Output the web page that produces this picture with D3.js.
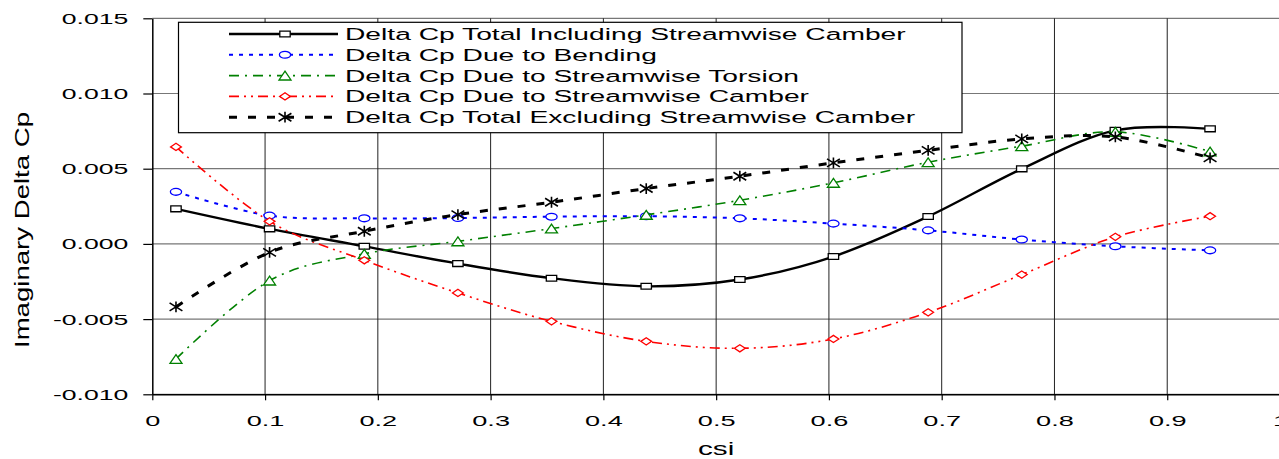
<!DOCTYPE html>
<html>
<head>
<meta charset="utf-8">
<script src="https://cdn.jsdelivr.net/npm/d3@7"></script>
<style>
  html, body { margin: 0; padding: 0; background: #fff; }
  svg { display: block; font-family: "Liberation Sans", Arial, sans-serif; }
</style>
</head>
<body>
<svg id="chart" width="1279" height="459"></svg>
<script>
// ---- data ----
const csi = [0.021, 0.104, 0.188, 0.271, 0.354, 0.438, 0.521, 0.604, 0.688, 0.771, 0.854, 0.938];
const totalIncluding = [0.00233, 0.00100, -0.00016, -0.00131, -0.00228, -0.00282, -0.00237, -0.00084, 0.00182, 0.00499, 0.00755, 0.00765];
const dueToBending   = [0.00346, 0.00188, 0.00170, 0.00172, 0.00181, 0.00184, 0.00170, 0.00135, 0.00090, 0.00029, -0.00016, -0.00043];
const dueToTorsion   = [-0.00765, -0.00244, -0.00066, 0.00017, 0.00102, 0.00193, 0.00290, 0.00406, 0.00543, 0.00650, 0.00745, 0.00614];
const dueToCamber    = [0.00645, 0.00150, -0.00109, -0.00326, -0.00515, -0.00648, -0.00694, -0.00632, -0.00455, -0.00204, 0.00047, 0.00184];
const totalExcluding = [-0.00419, -0.00056, 0.00084, 0.00195, 0.00277, 0.00368, 0.00450, 0.00539, 0.00622, 0.00698, 0.00711, 0.00572];

const seriesNames = [
  "Delta Cp Total Including Streamwise Camber",
  "Delta Cp Due to Bending",
  "Delta Cp Due to Streamwise Torsion",
  "Delta Cp Due to Streamwise Camber",
  "Delta Cp Total Excluding Streamwise Camber"
];
const xTicks = [0, 0.1, 0.2, 0.3, 0.4, 0.5, 0.6, 0.7, 0.8, 0.9, 1];
const xTickLabels = ["0", "0.1", "0.2", "0.3", "0.4", "0.5", "0.6", "0.7", "0.8", "0.9", "1"];
const yTicks = [-0.010, -0.005, 0.000, 0.005, 0.010, 0.015];
const yTickLabels = ["-0.010", "-0.005", "0.000", "0.005", "0.010", "0.015"];
const xTitle = "csi";
const yTitle = "Imaginary Delta Cp";

// ---- styles ----
const styles = [
  { color: "#000000", width: 2.4, dash: null,               marker: "square" },
  { color: "#0000ff", width: 2.0, dash: "4,6",              marker: "circle" },
  { color: "#008000", width: 1.6, dash: "10,6,2,6",         marker: "triangle" },
  { color: "#ff0000", width: 1.6, dash: "10,5,2,5,2,5",     marker: "diamond" },
  { color: "#000000", width: 3.0, dash: "8,11",             marker: "asterisk" }
];
const seriesValues = [totalIncluding, dueToBending, dueToTorsion, dueToCamber, totalExcluding];

const svg = d3.select("#chart");
const L = 152.3, R = 1280, T = 18.3, B = 394.3;
const x = d3.scaleLinear().domain([0, 1]).range([L, R]);
const y = d3.scaleLinear().domain([-0.010, 0.015]).range([B, T]);

svg.append("rect").attr("width", 1279).attr("height", 459).attr("fill", "#fff");

// gridlines
const grid = svg.append("g");
grid.selectAll("line.h").data(yTicks).join("line")
  .attr("x1", L).attr("x2", R)
  .attr("y1", d => y(d)).attr("y2", d => y(d))
  .attr("stroke", "#777").attr("stroke-width", 1.2);
grid.selectAll("line.v").data(xTicks.slice(1)).join("line")
  .attr("x1", d => x(d)).attr("x2", d => x(d))
  .attr("y1", T).attr("y2", B)
  .attr("stroke", "#222").attr("stroke-width", 1);

// axes
const yAxis = d3.axisLeft(y).tickValues(yTicks)
  .tickFormat((d, i) => yTickLabels[i]).tickSize(9).tickSizeOuter(0).tickPadding(0);
const gy = svg.append("g").attr("transform", `translate(${L},0)`).call(yAxis);
gy.select(".domain").attr("stroke", "#000").attr("stroke-width", 1.5);
gy.selectAll(".tick line").attr("stroke", "#000").attr("stroke-width", 1.2);
gy.selectAll(".tick text").attr("x", 0).attr("dy", null)
  .attr("font-size", 14).attr("fill", "#000")
  .attr("transform", "translate(-24,5) scale(1.9,1)");

const xAxis = d3.axisBottom(x).tickValues(xTicks)
  .tickFormat((d, i) => xTickLabels[i]).tickSize(6).tickSizeOuter(0).tickPadding(0);
const gx = svg.append("g").attr("transform", `translate(0,${B})`).call(xAxis);
gx.select(".domain").attr("stroke", "#000").attr("stroke-width", 1.5);
gx.selectAll(".tick line").attr("stroke", "#000").attr("stroke-width", 1.2);
gx.selectAll(".tick text").attr("y", 0).attr("dy", null)
  .attr("font-size", 15.5).attr("fill", "#000")
  .attr("transform", "translate(0,32) scale(1.75,1)");

// axis titles
svg.append("text").text(xTitle)
  .attr("text-anchor", "middle").attr("font-size", 18)
  .attr("transform", `translate(${x(0.5)},455) scale(1.65,1)`);
svg.append("text").text(yTitle)
  .attr("text-anchor", "middle").attr("font-size", 15)
  .attr("transform", "translate(28.5,230) rotate(-90) scale(1.84,1.35)");

// marker shapes
const markerPath = {
  square:   "M-5.2,-2.9H5.2V2.9H-5.2Z",
  circle:   "M-5.6,0A5.6,3.4 0 1,0 5.6,0A5.6,3.4 0 1,0 -5.6,0Z",
  triangle: "M0,-4.4L6,4.4L-6,4.4Z",
  diamond:  "M0,-3.6L5.4,0L0,3.6L-5.4,0Z",
  asterisk: "M0,-5.4V5.4M-6.4,-4L6.4,4M-6.4,4L6.4,-4"
};
function drawMarker(g, type, color, cx, cy) {
  const p = g.append("path").attr("d", markerPath[type])
    .attr("transform", `translate(${cx},${cy})`)
    .attr("stroke", color).attr("stroke-width", type === "asterisk" ? 1.6 : 1.3);
  if (type === "asterisk") p.attr("fill", "none");
  else p.attr("fill", "#fff");
}

// series
const line = d3.line().x(d => x(d[0])).y(d => y(d[1])).curve(d3.curveCardinal.tension(0));
seriesValues.forEach((vals, si) => {
  const st = styles[si];
  const pts = csi.map((c, i) => [c, vals[i]]);
  const g = svg.append("g");
  g.append("path").datum(pts).attr("d", line)
    .attr("fill", "none").attr("stroke", st.color).attr("stroke-width", st.width)
    .attr("stroke-dasharray", st.dash).attr("stroke-linejoin", "round");
  pts.forEach(p => drawMarker(g, st.marker, st.color, x(p[0]), y(p[1])));
});

// legend
const lg = svg.append("g");
lg.append("rect").attr("x", 178.5).attr("y", 22.3).attr("width", 962 - 178.5).attr("height", 132.7 - 22.3)
  .attr("fill", "#fff").attr("stroke", "#000").attr("stroke-width", 1.2);
seriesNames.forEach((name, i) => {
  const st = styles[i];
  const base = 40 + i * 20.8;
  const ly = base - 6;
  lg.append("line").attr("x1", 229).attr("x2", 338).attr("y1", ly).attr("y2", ly)
    .attr("stroke", st.color).attr("stroke-width", st.width).attr("stroke-dasharray", st.dash);
  drawMarker(lg, st.marker, st.color, 285, ly);
  lg.append("text").text(name).attr("font-size", 17).attr("fill", "#000")
    .attr("transform", `translate(345,${base}) scale(1.66,1)`);
});
</script>
</body>
</html>
